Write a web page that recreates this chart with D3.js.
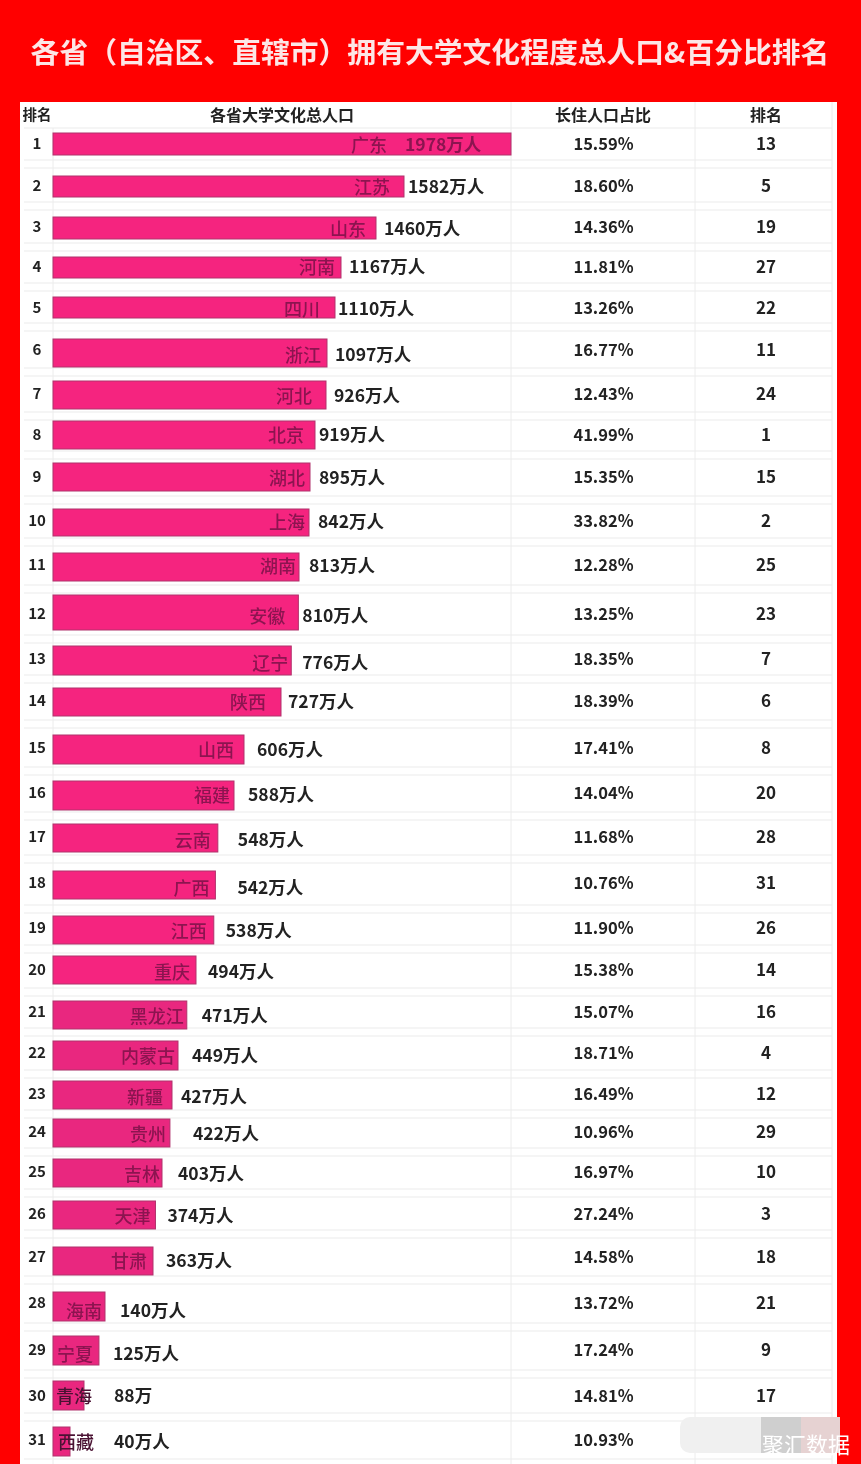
<!DOCTYPE html>
<html>
  <head>
    <meta http-equiv="Content-Type" content="text/html;charset=utf-8">
    <title>各省大学文化程度总人口排名</title>
    <script type="text/javascript" src="https://cdn.jsdelivr.net/npm/d3@7"></script>
    <style type="text/css">

html, body {
    margin: 0;
    padding: 0;
    background: #ff0000;
}

svg {
    display: block;
    filter: blur(0.35px);
}

text {
    font-family: "Noto Sans CJK SC", "Open Sans", sans-serif;
    font-weight: 700;
    fill: #222;
    dominant-baseline: central;
}

    </style>
  </head>
  <body>
    <div id="chart"></div>
    <script type="text/javascript">

    var provinces = ["广东","江苏","山东","河南","四川","浙江","河北","北京","湖北","上海","湖南","安徽","辽宁","陕西","山西","福建","云南","广西","江西","重庆","黑龙江","内蒙古","新疆","贵州","吉林","天津","甘肃","海南","宁夏","青海","西藏"];
    var residents = [1978,1582,1460,1167,1110,1097,926,919,895,842,813,810,776,727,606,588,548,542,538,494,471,449,427,422,403,374,363,140,125,88,40];
    var shares = [15.59,18.60,14.36,11.81,13.26,16.77,12.43,41.99,15.35,33.82,12.28,13.25,18.35,18.39,17.41,14.04,11.68,10.76,11.90,15.38,15.07,18.71,16.49,10.96,16.97,27.24,14.58,13.72,17.24,14.81,10.93];
    // the last rank is hidden by the watermark in the original
    var shareRanks = [13,5,19,27,22,11,24,1,15,2,25,23,7,6,8,20,28,31,26,14,16,4,12,29,10,3,18,21,9,17,null];
    var headers = ["排名","各省大学文化总人口","长住人口占比","排名"];
    var title = "各省（自治区、直辖市）拥有大学文化程度总人口&百分比排名";

    var rows = provinces.map(function(p, i) {
        return {rank: i + 1, name: p, value: residents[i], share: shares[i], shareRank: shareRanks[i]};
    });
    var ranks = rows.map(function(d) { return d.rank; });

    // layout of the original, its rows and bars are not evenly drawn
    var textRows = [144,186,227,267,308,350,394,435,477,521,565,614,659,701,748,793,837,883,928,970,1012,1053,1094,1132,1172,1214,1257,1303,1350,1396,1440];
    var barRows = [144,186.5,228,267.5,307.5,353,395,435,477,522.5,567,612.5,660.5,702,749.5,795.5,838,885,930,970,1015,1055.5,1095,1133,1173,1215,1261,1306.5,1350.5,1395.5,1441.5];
    var labelRows = [145,187,229,267,309,355,396,435,478,522,566,616,663,702,750,795,840,888,931,972,1016,1056,1097,1134,1174,1216,1261,1311,1354,1396,1442];
    var barThick = [22,21,22,21,21,28,28,28,28,27,28,35,29,28,29,29,28,28,28,28,28,29,28,28,28,28,28,29,29,29,29];
    var labelGap = [-106,4,8,8,3,8,8,4,9,9,10,4,11,7,13,14,20,22,12,12,15,14,9,23,16,12,13,15,14,30,44];
    var nameInset = [124,14,10,6,15,6,14,11,5,4,3,13,3,15,10,4,7,6,7,6,3,3,9,4,2,5,6,3,6,-8,-24];
    var ruleRows = [160,202,243,283,323,368,412,451,496,538,585,635,675,720,767,812,855,905,945,988,1028,1070,1110,1148,1189,1230,1276,1323,1370,1413,1459];

    var width = 861, height = 1464;

    var svg = d3.select("#chart").append("svg")
        .attr("width", width)
        .attr("height", height);

    // bar lengths in the picture are not proportional to the numbers, so the scale has several knots
    var x = d3.scaleLinear()
        .domain([0,40,88,140,363,403,427,449,494,588,606,727,813,842,895,919,926,1097,1110,1167,1460,1582,1978])
        .range([53,70,84,105,153,162,172,178,196,234,244,281,299,309,310,315,326,327,335,341,376,404,511]);

    var yText = d3.scaleLinear().domain(ranks).range(textRows);
    var yBar = d3.scaleLinear().domain(ranks).range(barRows);
    var yLabel = d3.scaleLinear().domain(ranks).range(labelRows);
    var yRule = d3.scaleLinear().domain(ranks).range(ruleRows);

    svg.append("rect")
        .attr("x", 20).attr("y", 102)
        .attr("width", 817).attr("height", height - 102)
        .attr("fill", "#fff");

    svg.append("text")
        .attr("x", 430).attr("y", 52)
        .attr("text-anchor", "middle")
        .attr("font-size", 28.8)
        .style("fill", "#fde6e6")
        .text(title);

    // header
    var headerX = [37, 282, 603, 766];
    var headerSize = [14.5, 16, 16, 16];
    svg.selectAll(".head")
        .data(headers)
        .enter()
        .append("text")
        .attr("class", "head")
        .attr("x", function(d, i) { return headerX[i]; })
        .attr("y", 115)
        .attr("text-anchor", "middle")
        .attr("font-size", function(d, i) { return headerSize[i]; })
        .text(function(d) { return d; });

    // double rules between rows
    var rules = svg.append("g").attr("stroke", "#ececec").attr("stroke-width", 1.2);
    rules.append("line").attr("x1", 24).attr("x2", 832).attr("y1", 128).attr("y2", 128);
    ranks.forEach(function(r) {
        rules.append("line")
            .attr("x1", 24).attr("x2", 832)
            .attr("y1", yRule(r)).attr("y2", yRule(r));
        rules.append("line")
            .attr("x1", 24).attr("x2", 832)
            .attr("y1", yRule(r) + 8).attr("y2", yRule(r) + 8);
    });

    // column lines
    svg.append("g").attr("stroke", "#ececec").attr("stroke-width", 1)
        .selectAll("line")
        .data([53, 511, 695, 832])
        .enter()
        .append("line")
        .attr("x1", function(d) { return d; })
        .attr("x2", function(d) { return d; })
        .attr("y1", function(d) { return d == 53 ? 128 : 102; })
        .attr("y2", height);

    // bars
    svg.selectAll(".bar")
        .data(rows)
        .enter()
        .append("rect")
        .attr("class", "bar")
        .attr("x", x(0))
        .attr("y", function(d, i) { return yBar(d.rank) - barThick[i] / 2; })
        .attr("width", function(d) { return x(d.value) - x(0); })
        .attr("height", function(d, i) { return barThick[i]; })
        .attr("fill", function(d) { return d.rank > 20 ? "#e9277f" : "#f5247f"; })
        .attr("stroke", "#b0336c")
        .attr("stroke-width", 1);

    // province names sit at the end of the bar
    svg.selectAll(".name")
        .data(rows)
        .enter()
        .append("text")
        .attr("class", "name")
        .attr("x", function(d, i) { return x(d.value) - nameInset[i]; })
        .attr("y", function(d) { return yLabel(d.rank); })
        .attr("text-anchor", "end")
        .attr("font-size", 18)
        .style("font-weight", 500)
        .style("fill", function(d) { return d.rank > 29 ? "#4a1233" : "#8c1450"; })
        .text(function(d) { return d.name; });

    svg.selectAll(".value")
        .data(rows)
        .enter()
        .append("text")
        .attr("class", "value")
        .attr("x", function(d, i) { return x(d.value) + labelGap[i]; })
        .attr("y", function(d) { return yLabel(d.rank); })
        .attr("font-size", 17.5)
        .style("font-weight", 700)
        .style("fill", function(d) { return d.rank == 1 ? "#8c1450" : "#222"; })
        .text(function(d) { return d.value + (d.value == 88 ? "万" : "万人"); });

    svg.selectAll(".rank")
        .data(rows)
        .enter()
        .append("text")
        .attr("class", "rank")
        .attr("x", 37)
        .attr("y", function(d) { return yText(d.rank); })
        .attr("text-anchor", "middle")
        .attr("font-size", 15)
        .text(function(d) { return d.rank; });

    svg.selectAll(".share")
        .data(rows)
        .enter()
        .append("text")
        .attr("class", "share")
        .attr("x", 603.5)
        .attr("y", function(d) { return yText(d.rank); })
        .attr("text-anchor", "middle")
        .attr("font-size", 16.5)
        .text(function(d) { return d3.format(".2f")(d.share) + "%"; });

    svg.selectAll(".shareRank")
        .data(rows.filter(function(d) { return d.shareRank != null; }))
        .enter()
        .append("text")
        .attr("class", "shareRank")
        .attr("x", 766)
        .attr("y", function(d) { return yText(d.rank); })
        .attr("text-anchor", "middle")
        .attr("font-size", 17)
        .text(function(d) { return d.shareRank; });

    // the CJK font sits a little low with a central baseline
    svg.selectAll("text").attr("dy", -1.5);

    // watermark
    svg.append("rect")
        .attr("x", 680).attr("y", 1417).attr("width", 160).attr("height", 36)
        .attr("rx", 10)
        .attr("fill", "#f0f0f0");
    svg.append("rect")
        .attr("x", 761).attr("y", 1417).attr("width", 40).attr("height", 36)
        .attr("fill", "#cfcfcf");
    svg.append("rect")
        .attr("x", 801).attr("y", 1417).attr("width", 39).attr("height", 36)
        .attr("fill", "#e6d2d2");
    svg.append("text")
        .attr("x", 762).attr("y", 1443)
        .attr("font-size", 22)
        .style("font-weight", 400)
        .style("fill", "#fff")
        .text("聚汇数据");

    </script>
  </body>
</html>
